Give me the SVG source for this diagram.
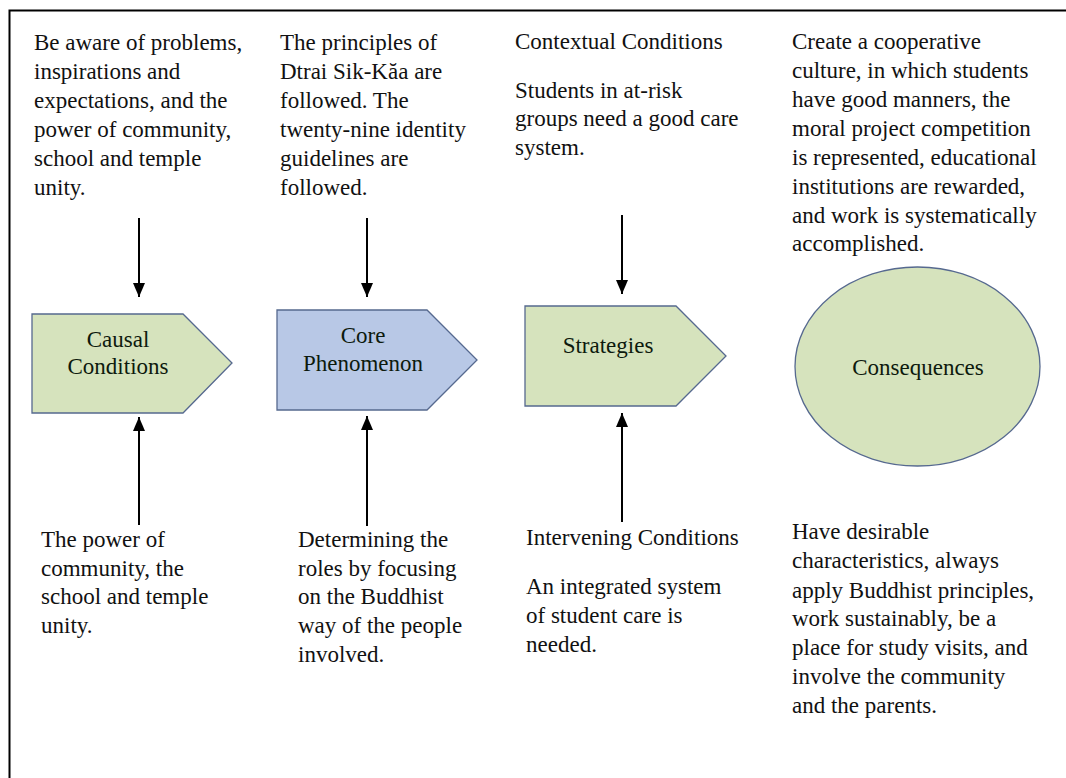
<svg xmlns="http://www.w3.org/2000/svg" width="1066" height="778" viewBox="0 0 1066 778">
<style>
text{font-size:23px;fill:#111}
.lbl{text-anchor:middle;fill:#0d1a0d}
.g{fill:#d6e3bd;stroke:#56698f;stroke-width:1.3}
.b{fill:#b8c8e6;stroke:#56698f;stroke-width:1.3}
.c{stroke:#000;stroke-width:2;fill:none}
</style>
<defs>
<marker id="ah" markerWidth="14" markerHeight="12" refX="14" refY="6" orient="auto" markerUnits="userSpaceOnUse" viewBox="0 0 14 12">
<path d="M0,0 L14,6 L0,12 Z" fill="#000"/>
</marker>
</defs>
<rect width="1066" height="778" fill="#fff"/>
<path d="M9.5,778 V10.5 H1066" fill="none" stroke="#000" stroke-width="2"/>

<g id="connectors">
<line class="c" x1="139" y1="218" x2="139" y2="297" marker-end="url(#ah)"/>
<line class="c" x1="139" y1="525" x2="139" y2="417" marker-end="url(#ah)"/>
<line class="c" x1="367" y1="218" x2="367" y2="297" marker-end="url(#ah)"/>
<line class="c" x1="367" y1="526" x2="367" y2="416" marker-end="url(#ah)"/>
<line class="c" x1="622" y1="215" x2="622" y2="294" marker-end="url(#ah)"/>
<line class="c" x1="622" y1="522" x2="622" y2="413" marker-end="url(#ah)"/>
</g>

<g font-family="'Liberation Serif', 'DejaVu Serif', serif">
<g id="causal">
<polygon class="g" points="32,314 183,314 232,363 183,413 32,413"/>
<text class="lbl" x="118" y="347">Causal</text>
<text class="lbl" x="118" y="374">Conditions</text>
</g>
<g id="core">
<polygon class="b" points="277,310 427,310 477,360 427,410 277,410"/>
<text class="lbl" x="363" y="343">Core</text>
<text class="lbl" x="363" y="371">Phenomenon</text>
</g>
<g id="strategies">
<polygon class="g" points="525,306 676,306 726,356 676,406 525,406"/>
<text class="lbl" x="608" y="353">Strategies</text>
</g>
<g id="consequences">
<ellipse class="g" cx="917.5" cy="366.5" rx="122.5" ry="99.5" stroke="#5f6f87"/>
<text class="lbl" x="918" y="375">Consequences</text>
</g>

<g id="causal-conditions-text">
<text x="34" y="50">Be aware of problems,</text>
<text x="34" y="79">inspirations and</text>
<text x="34" y="108">expectations, and the</text>
<text x="34" y="137">power of community,</text>
<text x="34" y="166">school and temple</text>
<text x="34" y="195">unity.</text>
</g>
<g id="core-text">
<text x="280" y="50">The principles of</text>
<text x="280" y="79">Dtrai Sik-Kăa are</text>
<text x="280" y="108">followed. The</text>
<text x="280" y="137">twenty-nine identity</text>
<text x="280" y="166">guidelines are</text>
<text x="280" y="195">followed.</text>
</g>
<g id="contextual-text">
<text x="515" y="49">Contextual Conditions</text>
<text x="515" y="98">Students in at-risk</text>
<text x="515" y="126">groups need a good care</text>
<text x="515" y="155">system.</text>
</g>
<g id="consequences-top-text">
<text x="792" y="49">Create a cooperative</text>
<text x="792" y="78">culture, in which students</text>
<text x="792" y="107">have good manners, the</text>
<text x="792" y="136">moral project competition</text>
<text x="792" y="165">is represented, educational</text>
<text x="792" y="194">institutions are rewarded,</text>
<text x="792" y="223">and work is systematically</text>
<text x="792" y="251">accomplished.</text>
</g>
<g id="causal-bottom-text">
<text x="41" y="547">The power of</text>
<text x="41" y="576">community, the</text>
<text x="41" y="604">school and temple</text>
<text x="41" y="633">unity.</text>
</g>
<g id="core-bottom-text">
<text x="298" y="547">Determining the</text>
<text x="298" y="576">roles by focusing</text>
<text x="298" y="604">on the Buddhist</text>
<text x="298" y="633">way of the people</text>
<text x="298" y="662">involved.</text>
</g>
<g id="intervening-text">
<text x="526" y="545">Intervening Conditions</text>
<text x="526" y="594">An integrated system</text>
<text x="526" y="623">of student care is</text>
<text x="526" y="652">needed.</text>
</g>
<g id="consequences-bottom-text">
<text x="792" y="539">Have desirable</text>
<text x="792" y="568">characteristics, always</text>
<text x="792" y="598">apply Buddhist principles,</text>
<text x="792" y="626">work sustainably, be a</text>
<text x="792" y="655">place for study visits, and</text>
<text x="792" y="684">involve the community</text>
<text x="792" y="713">and the parents.</text>
</g>
</g>
</svg>
